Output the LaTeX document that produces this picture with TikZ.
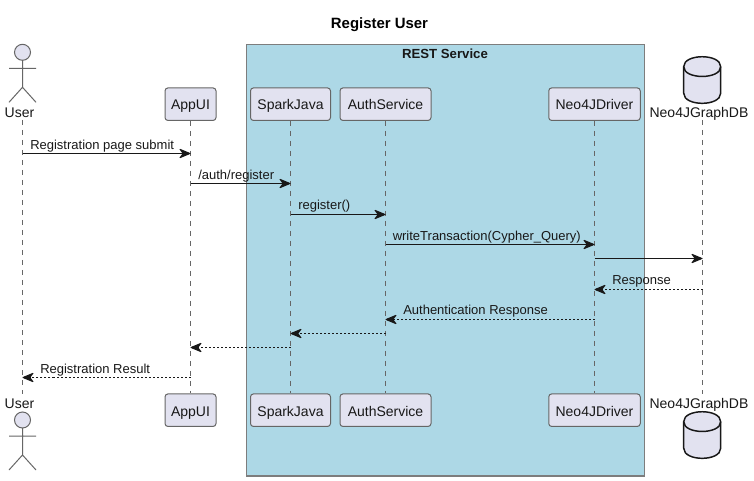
\documentclass[tikz,border=0pt]{standalone}
\usepackage{fontspec}
\setmainfont{Liberation Sans}
\usetikzlibrary{arrows.meta,shapes.geometric}
\definecolor{partfill}{HTML}{E2E2F0}
\definecolor{partline}{HTML}{666666}
\definecolor{ink}{HTML}{181818}
\definecolor{groupfill}{HTML}{ADD8E6}
\tikzset{
  px/.style={x=0.75pt,y=-0.75pt},
  part/.style={draw=partline,fill=partfill,rounded corners=2.2pt,line width=0.75pt,minimum height=24.4pt,inner sep=0pt,text height=10pt,text depth=1.3pt,font=\fontsize{10.5pt}{12pt}\selectfont,text=ink},
  plain/.style={inner sep=0pt,font=\fontsize{10.5pt}{12pt}\selectfont,text=ink,anchor=base},
  life/.style={draw=partline,line width=0.75pt,dash pattern=on 3.75pt off 3.75pt},
  msg/.style={draw=ink,line width=0.75pt,-{Stealth[length=9.5pt,width=7.8pt,inset=3pt,round]}},
  ret/.style={msg,dash pattern=on 1.5pt off 1.5pt},
  lbl/.style={inner sep=0pt,font=\fontsize{9.75pt}{12pt}\selectfont,text=ink,anchor=base west},
  figure/.style={draw=partline,line width=0.75pt},
  dbshape/.style={draw=ink,fill=partfill,line width=1.1pt},
}
\newcommand{\actorfig}[2]{%
  \draw[figure,fill=partfill] (#1,#2) circle[radius=6pt];
  \draw[figure] (#1,#2+8) -- (#1,#2+35) (#1-13.5,#2+16) -- (#1+13.5,#2+16)
    (#1-13.5,#2+50) -- (#1,#2+35) -- (#1+13.5,#2+50);}
\newcommand{\dbfig}[2]{%
  \draw[dbshape] (#1-18.5,#2+10) .. controls (#1-18.5,#2-3.3) and (#1+18.5,#2-3.3) .. (#1+18.5,#2+10)
    -- (#1+18.5,#2+36.5) .. controls (#1+18.5,#2+50) and (#1-18.5,#2+50) .. (#1-18.5,#2+36.5) -- cycle;
  \draw[dbshape,fill=none] (#1-18.5,#2+10) .. controls (#1-18.5,#2+23) and (#1+18.5,#2+23) .. (#1+18.5,#2+10);}
\begin{document}
\begin{tikzpicture}[px]
\useasboundingbox (0,0) rectangle (754,481);
\fill[white] (0,0) rectangle (754,481);
\node[inner sep=0pt,font=\bfseries\fontsize{11.2pt}{12pt}\selectfont] (title) at (379.5,25) {Register User};
\draw[draw=partline!85!white,fill=groupfill,line width=0.9pt] (246.5,44.5) rectangle (644.5,476);
\node[inner sep=0pt,font=\bfseries\fontsize{9.9pt}{12pt}\selectfont,text=ink] (group) at (445,53.5) {REST Service};
% lifelines anchors
\coordinate (lu1) at (22.5,120); \coordinate (lu2) at (22.5,394);
\coordinate (ldb1) at (702.5,120); \coordinate (ldb2) at (702.5,394);
% top and bottom participants
\foreach \nm/\cx/\bw/\tx in {app/190.5/51/AppUI,spark/290.5/80/SparkJava,auth/385.5/91/AuthService,driver/594.5/91.5/Neo4JDriver}{
  \node[part,minimum width=\bw*0.75pt] (\nm T) at (\cx,104.2) {\tx};
  \node[part,minimum width=\bw*0.75pt] (\nm B) at (\cx,410.2) {\tx};
}
\draw[life] (lu1) -- (lu2);
\draw[life] (appT) -- (appB);
\draw[life] (sparkT) -- (sparkB);
\draw[life] (authT) -- (authB);
\draw[life] (driverT) -- (driverB);
\draw[life] (ldb1) -- (ldb2);
% actors and database
\actorfig{22.5}{52.3}
\actorfig{22.5}{420}
\node[plain] (userT) at (19.5,117.5) {User};
\node[plain] (userB) at (19.5,408.5) {User};
\dbfig{702.2}{56.7}
\dbfig{702.2}{411.7}
\node[plain] (dbT) at (699,117.7) {Neo4JGraphDB};
\node[plain] (dbB) at (699,408.5) {Neo4JGraphDB};
% message end points
\path (lu1 |- 0,153.5) coordinate (m1a);
\path (appT |- 0,153.5) coordinate (m1b);
\path (appT |- 0,183.5) coordinate (m2a);
\path (sparkT |- 0,183.5) coordinate (m2b);
\path (sparkT |- 0,214.5) coordinate (m3a);
\path (authT |- 0,214.5) coordinate (m3b);
\path (authT |- 0,244.5) coordinate (m4a);
\path (driverT |- 0,244.5) coordinate (m4b);
\path (driverT |- 0,258.5) coordinate (m5a);
\path (ldb1 |- 0,258.5) coordinate (m5b);
\path (ldb1 |- 0,289.5) coordinate (m6a);
\path (driverT |- 0,289.5) coordinate (m6b);
\path (driverT |- 0,319.5) coordinate (m7a);
\path (authT |- 0,319.5) coordinate (m7b);
\path (authT |- 0,333.5) coordinate (m8a);
\path (sparkT |- 0,333.5) coordinate (m8b);
\path (sparkT |- 0,347.5) coordinate (m9a);
\path (appT |- 0,347.5) coordinate (m9b);
\path (appT |- 0,377.5) coordinate (m10a);
\path (lu1 |- 0,377.5) coordinate (m10b);
\draw[msg] (m1a) -- (m1b);
\draw[msg] (m2a) -- (m2b);
\draw[msg] (m3a) -- (m3b);
\draw[msg] (m4a) -- (m4b);
\draw[msg] (m5a) -- (m5b);
\draw[ret] (m6a) -- (m6b);
\draw[ret] (m7a) -- (m7b);
\draw[ret] (m8a) -- (m8b);
\draw[ret] (m9a) -- (m9b);
\draw[ret] (m10a) -- (m10b);
\node[lbl] (t1) at (30,149.5) {Registration page submit};
\node[lbl] (t2) at (198,179.5) {/auth/register};
\node[lbl] (t3) at (298,209.5) {register()};
\node[lbl] (t4) at (392.5,240.5) {writeTransaction(Cypher\_Query)};
\node[lbl] (t6) at (612,284.5) {Response};
\node[lbl] (t7) at (403,314.5) {Authentication Response};
\node[lbl] (t10) at (40,373.5) {Registration Result};
\end{tikzpicture}
\end{document}
